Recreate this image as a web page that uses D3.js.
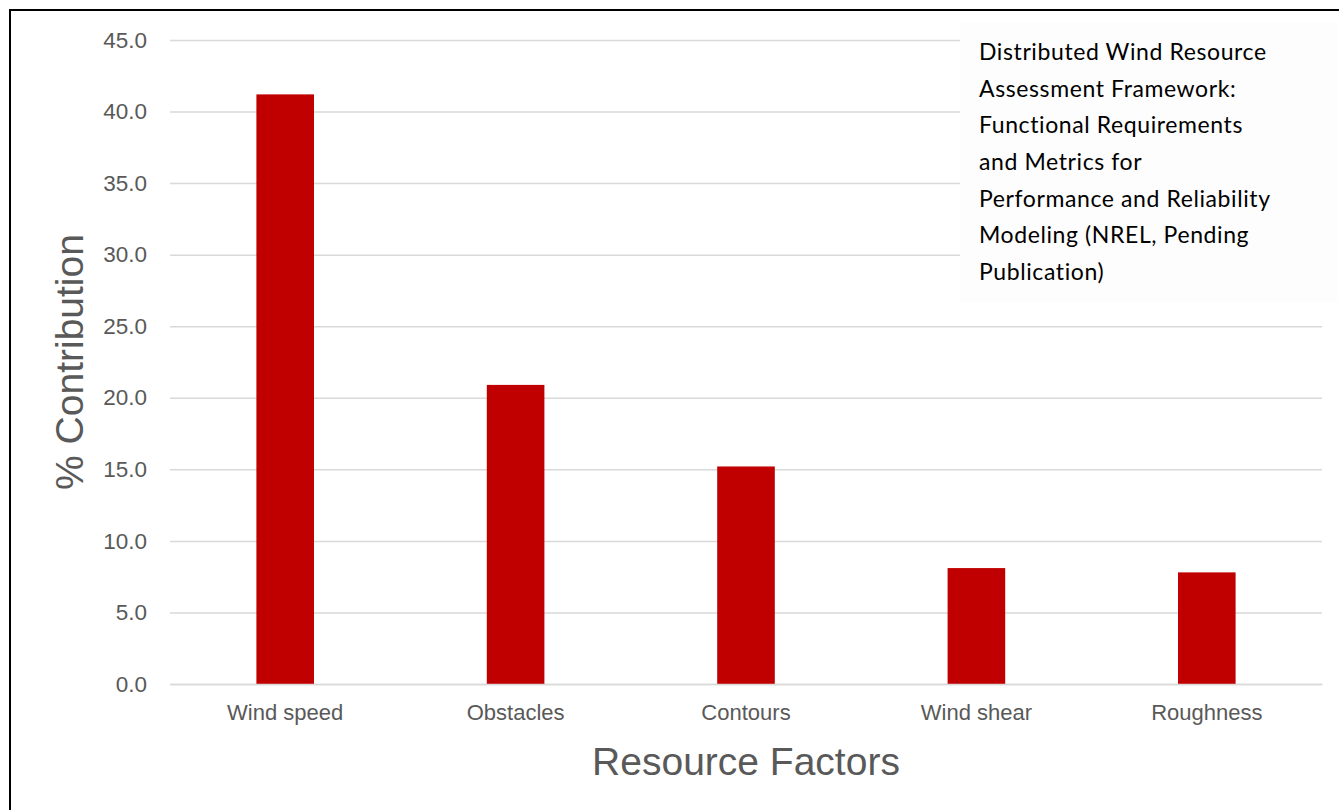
<!DOCTYPE html>
<html>
<head>
<meta charset="utf-8">
<script src="https://cdn.jsdelivr.net/npm/d3@7"></script>
<style>
  html, body { margin: 0; padding: 0; background: #fff; }
  svg { display: block; }
</style>
</head>
<body>
<svg id="chart" width="1339" height="810"></svg>
<script>
// Resource factor contributions (%)
const categories = ["Wind speed", "Obstacles", "Contours", "Wind shear", "Roughness"];
const contributions = [41.2, 20.9, 15.2, 8.1, 7.8];
const yTicks = [0, 5, 10, 15, 20, 25, 30, 35, 40, 45];
const noteLines = [
  "Distributed Wind Resource",
  "Assessment Framework:",
  "Functional Requirements",
  "and Metrics for",
  "Performance and Reliability",
  "Modeling (NREL, Pending",
  "Publication)"
];

const svg = d3.select("#chart");
const W = 1339, H = 810;
const plot = { left: 170, right: 1322, top: 40, bottom: 684 };

// Frame around the chart area
svg.append("rect")
  .attr("x", 10).attr("y", 10)
  .attr("width", W + 20).attr("height", H + 20)
  .attr("fill", "#fff").attr("stroke", "#000").attr("stroke-width", 2);

const x = d3.scaleBand()
  .domain(categories)
  .range([plot.left, plot.right])
  .paddingInner(0.75)
  .paddingOuter(0.375);

const y = d3.scaleLinear()
  .domain([0, 45])
  .range([plot.bottom, plot.top]);

// Horizontal gridlines with value labels
const yAxis = d3.axisLeft(y)
  .tickValues(yTicks)
  .tickFormat(d3.format(".1f"))
  .tickSize(-(plot.right - plot.left))
  .tickPadding(23);

const gy = svg.append("g")
  .attr("transform", `translate(${plot.left},0)`)
  .call(yAxis);
gy.select(".domain").remove();
gy.selectAll(".tick line").attr("stroke", "#d9d9d9").attr("stroke-width", 1.5);
gy.selectAll(".tick text")
  .attr("fill", "#595959")
  .style("font-family", "'Liberation Sans', Arial, sans-serif")
  .style("font-size", "22.5px");

// Bars
svg.append("g").selectAll("rect")
  .data(categories.map((c, i) => ({ c, v: contributions[i] })))
  .join("rect")
  .attr("x", d => x(d.c))
  .attr("width", x.bandwidth())
  .attr("y", d => y(d.v))
  .attr("height", d => y(0) - y(d.v))
  .attr("fill", "#c00000");

// Category axis
const xAxis = d3.axisBottom(x).tickSize(0).tickPadding(20);
const gx = svg.append("g")
  .attr("transform", `translate(0,${plot.bottom})`)
  .call(xAxis);
gx.select(".domain").attr("stroke", "#d9d9d9").attr("stroke-width", 1.5);
gx.selectAll(".tick text")
  .attr("fill", "#595959")
  .style("font-family", "'Liberation Sans', Arial, sans-serif")
  .style("font-size", "22px");

// Axis titles
svg.append("text")
  .attr("transform", `translate(83,362) rotate(-90)`)
  .attr("text-anchor", "middle")
  .attr("fill", "#595959")
  .style("font-family", "'Liberation Sans', Arial, sans-serif")
  .style("font-size", "39px")
  .text("% Contribution");

svg.append("text")
  .attr("x", 746).attr("y", 775)
  .attr("text-anchor", "middle")
  .attr("fill", "#595959")
  .style("font-family", "'Liberation Sans', Arial, sans-serif")
  .style("font-size", "39px")
  .text("Resource Factors");

// Source note on its own text box, covering the gridlines behind it
svg.append("rect")
  .attr("x", 960).attr("y", 22)
  .attr("width", 377).attr("height", 280)
  .attr("fill", "#fdfdfd");

const note = svg.append("text")
  .attr("x", 979).attr("y", 60)
  .attr("fill", "#000")
  .style("font-family", "Lato, 'Open Sans', sans-serif")
  .style("font-size", "23px")
  .style("letter-spacing", "0.6px");
note.selectAll("tspan")
  .data(noteLines)
  .join("tspan")
  .attr("x", 979)
  .attr("y", (d, i) => 60 + i * 36.67)
  .text(d => d);
</script>
</body>
</html>
